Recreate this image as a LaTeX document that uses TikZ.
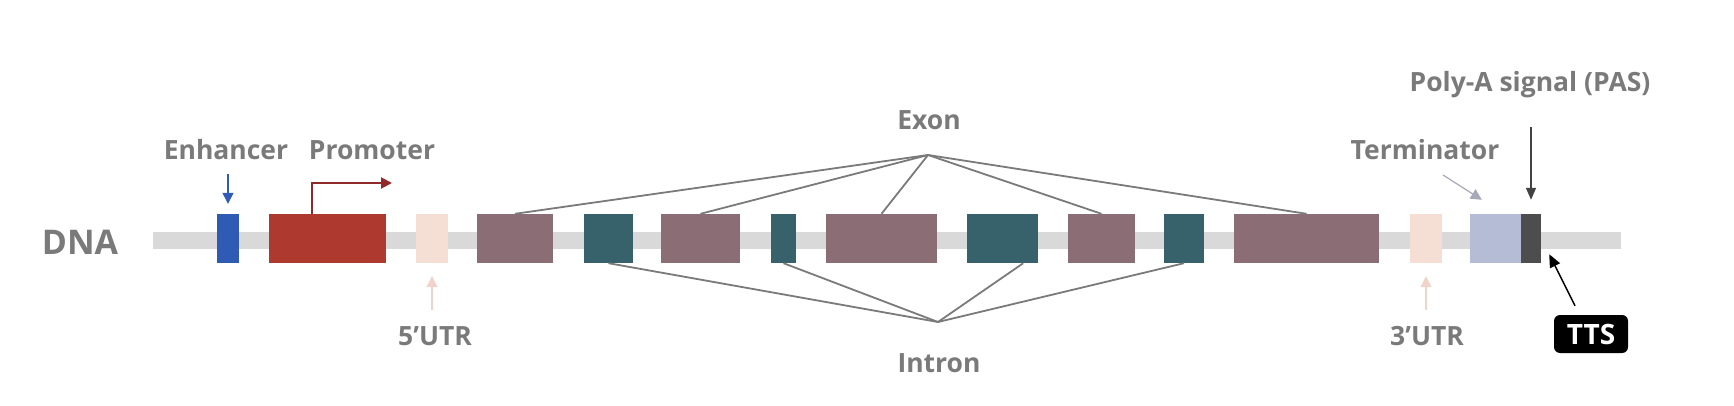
\documentclass[tikz,border=0pt]{standalone}
\usepackage{fontspec}
\setmainfont{Open Sans}
\usepackage{tikz}
\usetikzlibrary{positioning,arrows.meta}

\definecolor{bargray}{RGB}{217,217,217}
\definecolor{textgray}{RGB}{122,122,122}
\definecolor{linkgray}{RGB}{122,122,122}
\definecolor{enhblue}{RGB}{47,91,181}
\definecolor{promred}{RGB}{174,58,47}
\definecolor{promdark}{RGB}{142,42,42}
\definecolor{utrpink}{RGB}{245,223,213}
\definecolor{utrarrow}{RGB}{240,212,202}
\definecolor{exonmauve}{RGB}{139,110,117}
\definecolor{introteal}{RGB}{55,97,107}
\definecolor{termblue}{RGB}{180,188,214}
\definecolor{termarrow}{RGB}{168,168,184}
\definecolor{pasgray}{RGB}{77,77,77}

\begin{document}
\begin{tikzpicture}[x=1pt,y=-1pt,
        seg/.style={inner sep=0pt,minimum height=49pt},
        lbl/.style={inner sep=0pt,anchor=base,text=textgray,font=\bfseries\fontsize{26.5}{30}\selectfont},
        link/.style={draw=linkgray,line width=1.8pt},
        tip/.style={-{Triangle[length=11pt,width=11pt]}}]
            \useasboundingbox (0,0) rectangle (1734,406);
            \node[fill=bargray,inner sep=0pt,minimum width=1468pt,minimum height=17pt] (strand) at (887,240) {};
            \node[lbl,font=\bfseries\fontsize{34}{38}\selectfont] (dna) at (80,254) {DNA};

            \node[seg,fill=enhblue,minimum width=22pt] (enh) at (228,238.5) {};
            \node[seg,fill=promred,minimum width=117pt] (prom) at (327.5,238.5) {};
            \node[seg,fill=utrpink,minimum width=32pt] (utr5) at (432,238.5) {};
            \node[seg,fill=exonmauve,minimum width=76pt] (e1) at (515,238.5) {};
            \node[seg,fill=introteal,minimum width=49pt] (i1) at (608.5,238.5) {};
            \node[seg,fill=exonmauve,minimum width=79pt] (e2) at (700.5,238.5) {};
            \node[seg,fill=introteal,minimum width=25pt] (i2) at (783.5,238.5) {};
            \node[seg,fill=exonmauve,minimum width=111pt] (e3) at (881.5,238.5) {};
            \node[seg,fill=introteal,minimum width=71pt] (i3) at (1002.5,238.5) {};
            \node[seg,fill=exonmauve,minimum width=67pt] (e4) at (1101.5,238.5) {};
            \node[seg,fill=introteal,minimum width=40pt] (i4) at (1184,238.5) {};
            \node[seg,fill=exonmauve,minimum width=145pt] (e5) at (1306.5,238.5) {};
            \node[seg,fill=utrpink,minimum width=32pt] (utr3) at (1426,238.5) {};
            \node[seg,fill=termblue,minimum width=51pt] (term) at (1495.5,238.5) {};
            \node[seg,fill=pasgray,minimum width=20pt] (pas) at (1531,238.5) {};

            \node[lbl] (enhlbl) at (226,159.5) {Enhancer};
            \node[lbl] (promlbl) at (372,159.5) {Promoter};
            \node[lbl] (exonlbl) at (929,129.5) {Exon};
            \node[lbl] (intronlbl) at (939,372.5) {Intron};
            \node[lbl] (utr5lbl) at (435,345) {5’UTR};
            \node[lbl] (utr3lbl) at (1427,345) {3’UTR};
            \node[lbl] (termlbl) at (1425,160) {Terminator};
            \node[lbl] (paslbl) at (1530,91.5) {Poly-A signal (PAS)};
            \node[fill=black,text=white,rounded corners=6pt,minimum width=74pt,minimum height=38pt,inner sep=0pt,
                font=\bfseries\fontsize{28}{30}\selectfont] (tts) at (1591,334) {TTS};

            \coordinate (exonapex) at (928,155);
            \coordinate (intronapex) at (938,322);
            \foreach \e in {e1,e2,e3,e4,e5}
                \draw[link] (exonapex) -- (\e.north);
            \foreach \i in {i1,i2,i4}
                \draw[link] (intronapex) -- (\i.south);
            \draw[link] (intronapex) -- ([xshift=-15pt]i3.south east);

            \coordinate (tss) at (392,183);
            \draw[promdark,line width=2pt,tip] ([xshift=43pt]prom.north west) |- (tss);
            \draw[enhblue,line width=1.3pt,tip,shorten >=10pt] ([yshift=40pt]enh.north) -- (enh.north);
            \draw[utrarrow,line width=1.2pt,tip,shorten >=13pt,shorten <=16pt] (utr5.south |- utr5lbl.north) -- (utr5.south);
            \draw[utrarrow,line width=1.2pt,tip,shorten >=13pt,shorten <=16pt] (utr3.south |- utr3lbl.north) -- (utr3.south);
            \coordinate (termtail) at (1443,175);
            \draw[termarrow,line width=1.2pt,tip] (termtail) -- ([xshift=12pt,yshift=14pt]term.north west);
            \draw[pasgray!85!black,line width=1.5pt,-{Triangle[length=12pt,width=10pt]},shorten >=14pt] ([yshift=87pt]pas.north) -- (pas.north);
            \draw[black,line width=1.5pt,-{Triangle[length=13pt,width=11pt]}] ([xshift=-16pt,yshift=9pt]tts.north) -- ([xshift=8pt,yshift=9pt]pas.south east);
        \end{tikzpicture}
\end{document}
